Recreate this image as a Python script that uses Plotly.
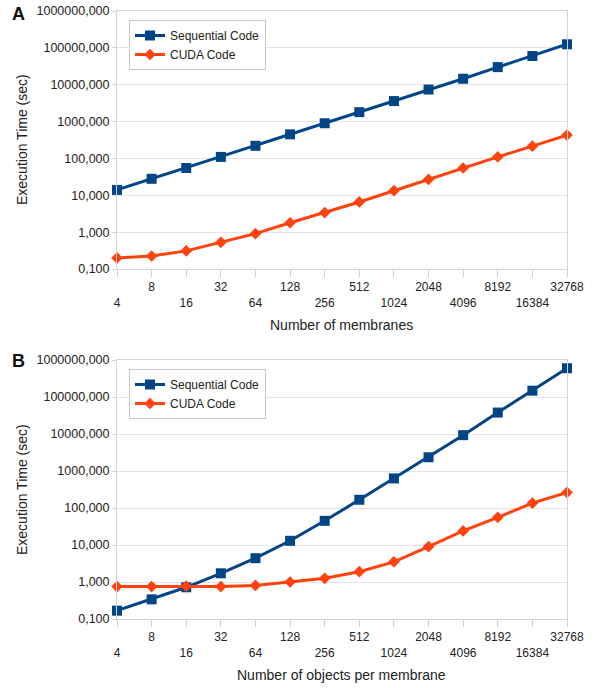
import plotly.graph_objects as go

categories = ["4", "8", "16", "32", "64", "128", "256", "512", "1024", "2048", "4096", "8192", "16384", "32768"]

seq_a = [14, 28, 55, 110, 220, 450, 900, 1800, 3600, 7400, 14500, 30000, 60000, 125000]
cuda_a = [0.20, 0.225, 0.31, 0.53, 0.91, 1.8, 3.4, 6.6, 13.3, 27, 55, 110, 215, 430]

seq_b = [0.168, 0.34, 0.72, 1.72, 4.4, 13, 45, 167, 630, 2350, 9300, 38000, 148000, 600000]
cuda_b = [0.75, 0.75, 0.77, 0.75, 0.81, 1.0, 1.26, 1.9, 3.5, 9, 24, 56, 135, 263]

y_tickvals = [0.1, 1, 10, 100, 1000, 10000, 100000, 1000000]
y_ticktext = ["0,100", "1,000", "10,000", "100,000", "1000,000", "10000,000", "100000,000", "1000000,000"]

x_ticktext = [c if i % 2 == 1 else "<br>" + c for i, c in enumerate(categories)]

BLUE = "#004586"
ORANGE = "#ff420e"
FONT = "Liberation Sans"
W, H = 598, 688

def px(x):
    return x / W

def py(y):
    return 1 - y / H

fig = go.Figure()

def add_series(xa, ya, leg, seq, cuda):
    fig.add_trace(go.Scatter(x=categories, y=seq, name="Sequential Code", mode="lines+markers",
                             line=dict(color=BLUE, width=3), marker=dict(symbol="square", size=10, color=BLUE),
                             xaxis=xa, yaxis=ya, legend=leg, cliponaxis=False))
    fig.add_trace(go.Scatter(x=categories, y=cuda, name="CUDA Code", mode="lines+markers",
                             line=dict(color=ORANGE, width=3), marker=dict(symbol="diamond", size=9, color=ORANGE),
                             xaxis=xa, yaxis=ya, legend=leg, cliponaxis=False))

add_series("x", "y", "legend", seq_a, cuda_a)
add_series("x2", "y2", "legend2", seq_b, cuda_b)

xaxis_common = dict(type="category", categoryorder="array", categoryarray=categories,
                    range=[0, 13], tickvals=categories, ticktext=x_ticktext, tickangle=0,
                    ticks="outside", ticklen=7, tickcolor="#cfcfcf", showgrid=False,
                    showline=True, linecolor="#d4d4d4", mirror=True, automargin=False,
                    ticklabeloverflow="allow",
                    tickfont=dict(family=FONT, size=12, color="#222"), domain=[px(117), px(567)], zeroline=False)
yaxis_common = dict(type="log", range=[-1, 6], tickvals=y_tickvals, ticktext=y_ticktext,
                    ticks="outside", ticklen=4, tickcolor="#d4d4d4", showgrid=True, gridcolor="#e4e4e4",
                    showline=True, linecolor="#d4d4d4", mirror=True, automargin=False,
                    ticklabeloverflow="allow",
                    tickfont=dict(family=FONT, size=12.5, color="#222"), zeroline=False)

legend_common = dict(bgcolor="white", bordercolor="#c8c8c8", borderwidth=1,
                     font=dict(family=FONT, size=12, color="#222"), xanchor="left", yanchor="top",
                     itemwidth=30, tracegroupgap=0)

fig.update_layout(
    width=W, height=H, margin=dict(l=0, r=0, t=0, b=0, autoexpand=False),
    paper_bgcolor="white", plot_bgcolor="white",
    xaxis=dict(**xaxis_common, anchor="y"),
    yaxis=dict(**yaxis_common, domain=[py(269), py(11)], anchor="x"),
    xaxis2=dict(**xaxis_common, anchor="y2"),
    yaxis2=dict(**yaxis_common, domain=[py(619), py(360)], anchor="x2"),
    legend=dict(**legend_common, x=px(129), y=py(20)),
    legend2=dict(**legend_common, x=px(129), y=py(369)),
    showlegend=True,
)

for label, yy in [("<b>A</b>", 14), ("<b>B</b>", 361)]:
    fig.add_annotation(text=label, x=px(10), y=py(yy), xref="paper", yref="paper",
                       xanchor="left", yanchor="middle", showarrow=False,
                       font=dict(family=FONT, size=18, color="#111"))

for yc in [140, 490]:
    fig.add_annotation(text="Execution Time (sec)", x=px(22), y=py(yc), xref="paper", yref="paper",
                       textangle=-90, showarrow=False, xanchor="center", yanchor="middle",
                       font=dict(family=FONT, size=14, color="#222"))
fig.add_annotation(text="Number of membranes", x=px(342), y=py(325), xref="paper", yref="paper",
                   showarrow=False, xanchor="center", yanchor="middle",
                   font=dict(family=FONT, size=14, color="#222"))
fig.add_annotation(text="Number of objects per membrane", x=px(342), y=py(675), xref="paper", yref="paper",
                   showarrow=False, xanchor="center", yanchor="middle",
                   font=dict(family=FONT, size=14, color="#222"))

fig.write_html("out.html", config={"displayModeBar": False},
               post_script="document.body.style.margin='0';document.body.style.overflow='hidden';")
